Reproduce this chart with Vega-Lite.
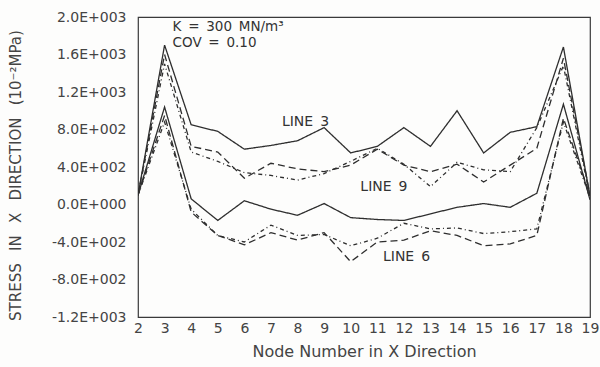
{
  "$schema": "https://vega.github.io/schema/vega-lite/v6.json",
  "width": 452,
  "height": 300,
  "autosize": "none",
  "padding": {"left": 138, "top": 17, "right": 10, "bottom": 50},
  "background": "#fdfdfc",
  "config": {
    "view": {"stroke": "#3a3a3a", "strokeWidth": 1.2},
    "font": "DejaVu Sans"
  },
  "datasets": {
    "curves": [
      {"node": 2, "value": 100, "curve": "L3 upper", "style": "solid"},
      {"node": 3, "value": 1700, "curve": "L3 upper", "style": "solid"},
      {"node": 4, "value": 850, "curve": "L3 upper", "style": "solid"},
      {"node": 5, "value": 780, "curve": "L3 upper", "style": "solid"},
      {"node": 6, "value": 590, "curve": "L3 upper", "style": "solid"},
      {"node": 7, "value": 630, "curve": "L3 upper", "style": "solid"},
      {"node": 8, "value": 680, "curve": "L3 upper", "style": "solid"},
      {"node": 9, "value": 820, "curve": "L3 upper", "style": "solid"},
      {"node": 10, "value": 550, "curve": "L3 upper", "style": "solid"},
      {"node": 11, "value": 620, "curve": "L3 upper", "style": "solid"},
      {"node": 12, "value": 820, "curve": "L3 upper", "style": "solid"},
      {"node": 13, "value": 620, "curve": "L3 upper", "style": "solid"},
      {"node": 14, "value": 1000, "curve": "L3 upper", "style": "solid"},
      {"node": 15, "value": 550, "curve": "L3 upper", "style": "solid"},
      {"node": 16, "value": 770, "curve": "L3 upper", "style": "solid"},
      {"node": 17, "value": 830, "curve": "L3 upper", "style": "solid"},
      {"node": 18, "value": 1680, "curve": "L3 upper", "style": "solid"},
      {"node": 19, "value": 90, "curve": "L3 upper", "style": "solid"},

      {"node": 2, "value": 100, "curve": "L3 lower", "style": "solid"},
      {"node": 3, "value": 1040, "curve": "L3 lower", "style": "solid"},
      {"node": 4, "value": 60, "curve": "L3 lower", "style": "solid"},
      {"node": 5, "value": -170, "curve": "L3 lower", "style": "solid"},
      {"node": 6, "value": 40, "curve": "L3 lower", "style": "solid"},
      {"node": 7, "value": -50, "curve": "L3 lower", "style": "solid"},
      {"node": 8, "value": -115, "curve": "L3 lower", "style": "solid"},
      {"node": 9, "value": 10, "curve": "L3 lower", "style": "solid"},
      {"node": 10, "value": -140, "curve": "L3 lower", "style": "solid"},
      {"node": 11, "value": -160, "curve": "L3 lower", "style": "solid"},
      {"node": 12, "value": -170, "curve": "L3 lower", "style": "solid"},
      {"node": 13, "value": -100, "curve": "L3 lower", "style": "solid"},
      {"node": 14, "value": -30, "curve": "L3 lower", "style": "solid"},
      {"node": 15, "value": 10, "curve": "L3 lower", "style": "solid"},
      {"node": 16, "value": -30, "curve": "L3 lower", "style": "solid"},
      {"node": 17, "value": 120, "curve": "L3 lower", "style": "solid"},
      {"node": 18, "value": 1070, "curve": "L3 lower", "style": "solid"},
      {"node": 19, "value": 50, "curve": "L3 lower", "style": "solid"},

      {"node": 2, "value": 100, "curve": "L6 upper", "style": "dash"},
      {"node": 3, "value": 1600, "curve": "L6 upper", "style": "dash"},
      {"node": 4, "value": 620, "curve": "L6 upper", "style": "dash"},
      {"node": 5, "value": 560, "curve": "L6 upper", "style": "dash"},
      {"node": 6, "value": 280, "curve": "L6 upper", "style": "dash"},
      {"node": 7, "value": 440, "curve": "L6 upper", "style": "dash"},
      {"node": 8, "value": 380, "curve": "L6 upper", "style": "dash"},
      {"node": 9, "value": 350, "curve": "L6 upper", "style": "dash"},
      {"node": 10, "value": 420, "curve": "L6 upper", "style": "dash"},
      {"node": 11, "value": 590, "curve": "L6 upper", "style": "dash"},
      {"node": 12, "value": 420, "curve": "L6 upper", "style": "dash"},
      {"node": 13, "value": 350, "curve": "L6 upper", "style": "dash"},
      {"node": 14, "value": 430, "curve": "L6 upper", "style": "dash"},
      {"node": 15, "value": 240, "curve": "L6 upper", "style": "dash"},
      {"node": 16, "value": 420, "curve": "L6 upper", "style": "dash"},
      {"node": 17, "value": 600, "curve": "L6 upper", "style": "dash"},
      {"node": 18, "value": 1560, "curve": "L6 upper", "style": "dash"},
      {"node": 19, "value": 100, "curve": "L6 upper", "style": "dash"},

      {"node": 2, "value": 100, "curve": "L6 lower", "style": "dash"},
      {"node": 3, "value": 950, "curve": "L6 lower", "style": "dash"},
      {"node": 4, "value": -80, "curve": "L6 lower", "style": "dash"},
      {"node": 5, "value": -330, "curve": "L6 lower", "style": "dash"},
      {"node": 6, "value": -430, "curve": "L6 lower", "style": "dash"},
      {"node": 7, "value": -300, "curve": "L6 lower", "style": "dash"},
      {"node": 8, "value": -380, "curve": "L6 lower", "style": "dash"},
      {"node": 9, "value": -300, "curve": "L6 lower", "style": "dash"},
      {"node": 10, "value": -610, "curve": "L6 lower", "style": "dash"},
      {"node": 11, "value": -400, "curve": "L6 lower", "style": "dash"},
      {"node": 12, "value": -380, "curve": "L6 lower", "style": "dash"},
      {"node": 13, "value": -280, "curve": "L6 lower", "style": "dash"},
      {"node": 14, "value": -330, "curve": "L6 lower", "style": "dash"},
      {"node": 15, "value": -440, "curve": "L6 lower", "style": "dash"},
      {"node": 16, "value": -420, "curve": "L6 lower", "style": "dash"},
      {"node": 17, "value": -330, "curve": "L6 lower", "style": "dash"},
      {"node": 18, "value": 920, "curve": "L6 lower", "style": "dash"},
      {"node": 19, "value": 100, "curve": "L6 lower", "style": "dash"},

      {"node": 2, "value": 100, "curve": "L9 upper", "style": "dashdot"},
      {"node": 3, "value": 1500, "curve": "L9 upper", "style": "dashdot"},
      {"node": 4, "value": 560, "curve": "L9 upper", "style": "dashdot"},
      {"node": 5, "value": 460, "curve": "L9 upper", "style": "dashdot"},
      {"node": 6, "value": 340, "curve": "L9 upper", "style": "dashdot"},
      {"node": 7, "value": 310, "curve": "L9 upper", "style": "dashdot"},
      {"node": 8, "value": 260, "curve": "L9 upper", "style": "dashdot"},
      {"node": 9, "value": 330, "curve": "L9 upper", "style": "dashdot"},
      {"node": 10, "value": 460, "curve": "L9 upper", "style": "dashdot"},
      {"node": 11, "value": 600, "curve": "L9 upper", "style": "dashdot"},
      {"node": 12, "value": 430, "curve": "L9 upper", "style": "dashdot"},
      {"node": 13, "value": 190, "curve": "L9 upper", "style": "dashdot"},
      {"node": 14, "value": 450, "curve": "L9 upper", "style": "dashdot"},
      {"node": 15, "value": 370, "curve": "L9 upper", "style": "dashdot"},
      {"node": 16, "value": 350, "curve": "L9 upper", "style": "dashdot"},
      {"node": 17, "value": 820, "curve": "L9 upper", "style": "dashdot"},
      {"node": 18, "value": 1480, "curve": "L9 upper", "style": "dashdot"},
      {"node": 19, "value": 80, "curve": "L9 upper", "style": "dashdot"},

      {"node": 2, "value": 100, "curve": "L9 lower", "style": "dashdot"},
      {"node": 3, "value": 880, "curve": "L9 lower", "style": "dashdot"},
      {"node": 4, "value": -50, "curve": "L9 lower", "style": "dashdot"},
      {"node": 5, "value": -330, "curve": "L9 lower", "style": "dashdot"},
      {"node": 6, "value": -400, "curve": "L9 lower", "style": "dashdot"},
      {"node": 7, "value": -220, "curve": "L9 lower", "style": "dashdot"},
      {"node": 8, "value": -330, "curve": "L9 lower", "style": "dashdot"},
      {"node": 9, "value": -320, "curve": "L9 lower", "style": "dashdot"},
      {"node": 10, "value": -440, "curve": "L9 lower", "style": "dashdot"},
      {"node": 11, "value": -360, "curve": "L9 lower", "style": "dashdot"},
      {"node": 12, "value": -200, "curve": "L9 lower", "style": "dashdot"},
      {"node": 13, "value": -260, "curve": "L9 lower", "style": "dashdot"},
      {"node": 14, "value": -250, "curve": "L9 lower", "style": "dashdot"},
      {"node": 15, "value": -310, "curve": "L9 lower", "style": "dashdot"},
      {"node": 16, "value": -290, "curve": "L9 lower", "style": "dashdot"},
      {"node": 17, "value": -260, "curve": "L9 lower", "style": "dashdot"},
      {"node": 18, "value": 880, "curve": "L9 lower", "style": "dashdot"},
      {"node": 19, "value": 70, "curve": "L9 lower", "style": "dashdot"}
    ],
    "notes": [
      {"node": 3.3, "value": 1890, "text": "K\u2002=\u2002300\u2002MN/m³"},
      {"node": 3.3, "value": 1725, "text": "COV\u2002=\u20020.10"}
    ],
    "labels": [
      {"node": 8.3, "value": 880, "text": "LINE\u20023"},
      {"node": 11.25, "value": 190, "text": "LINE\u20029"},
      {"node": 12.1, "value": -565, "text": "LINE\u20026"}
    ]
  },
  "resolve": {"axis": {"x": "independent", "y": "independent"}},
  "layer": [
    {
      "data": {"name": "curves"},
      "mark": {"type": "line", "strokeWidth": 1.3, "color": "#2e2e2e", "clip": true},
      "encoding": {
        "x": {
          "field": "node", "type": "quantitative",
          "scale": {"domain": [2, 19], "nice": false, "zero": false},
          "axis": {
            "orient": "bottom",
            "values": [2,3,4,5,6,7,8,9,10,11,12,13,14,15,16,17,18,19],
            "format": "d",
            "labelOverlap": false,
            "grid": false,
            "domain": false,
            "ticks": false,
            "labelPadding": 4,
            "labelFontSize": 14,
            "labelColor": "#444",
            "labelFlush": false,
            "title": "Node Number in X Direction",
            "titleFontSize": 16,
            "titleFontWeight": "normal",
            "titleColor": "#444",
            "titlePadding": 8
          }
        },
        "y": {
          "field": "value", "type": "quantitative",
          "scale": {"domain": [-1200, 2000], "nice": false, "zero": false},
          "axis": {
            "orient": "left",
            "values": [-1200, -800, -400, 0, 400, 800, 1200, 1600, 2000],
            "labelExpr": "datum.value == 2000 ? '2.0E+003' : datum.value == 1600 ? '1.6E+003' : datum.value == 1200 ? '1.2E+003' : datum.value == 800 ? '8.0E+002' : datum.value == 400 ? '4.0E+002' : datum.value == 0 ? '0.0E+000' : datum.value == -400 ? '-4.0E+002' : datum.value == -800 ? '-8.0E+002' : '-1.2E+003'",
            "labelOverlap": false,
            "grid": false,
            "domain": false,
            "ticks": false,
            "labelPadding": 12,
            "labelFontSize": 14,
            "labelColor": "#444",
            "labelFlush": false,
            "title": "STRESS\u2002 IN\u2002 X\u2002 DIRECTION\u2002 (10⁻²MPa)",
            "titleFontSize": 15,
            "titleFontWeight": "normal",
            "titleColor": "#444",
            "titleX": -123,
            "titleY": 158,
            "titleAngle": -90,
            "titleAlign": "center",
            "titleBaseline": "middle"
          }
        },
        "detail": {"field": "curve"},
        "strokeDash": {
          "field": "style", "type": "nominal",
          "scale": {"domain": ["solid", "dash", "dashdot"], "range": [[1, 0], [7, 4], [4, 3, 1, 3]]},
          "legend": null
        }
      }
    },
    {
      "data": {"name": "notes"},
      "mark": {"type": "text", "align": "left", "baseline": "middle", "fontSize": 13.5, "color": "#333"},
      "encoding": {
        "x": {
          "field": "node", "type": "quantitative",
          "axis": {"orient": "top", "labels": false, "grid": false, "domain": false, "ticks": false, "title": null}
        },
        "y": {
          "field": "value", "type": "quantitative",
          "axis": {"orient": "right", "labels": false, "grid": false, "domain": false, "ticks": false, "title": null}
        },
        "text": {"field": "text"}
      }
    },
    {
      "data": {"name": "labels"},
      "mark": {"type": "text", "align": "center", "baseline": "middle", "fontSize": 14, "color": "#333"},
      "encoding": {
        "x": {"field": "node", "type": "quantitative", "axis": null},
        "y": {"field": "value", "type": "quantitative", "axis": null},
        "text": {"field": "text"}
      }
    }
  ]
}
